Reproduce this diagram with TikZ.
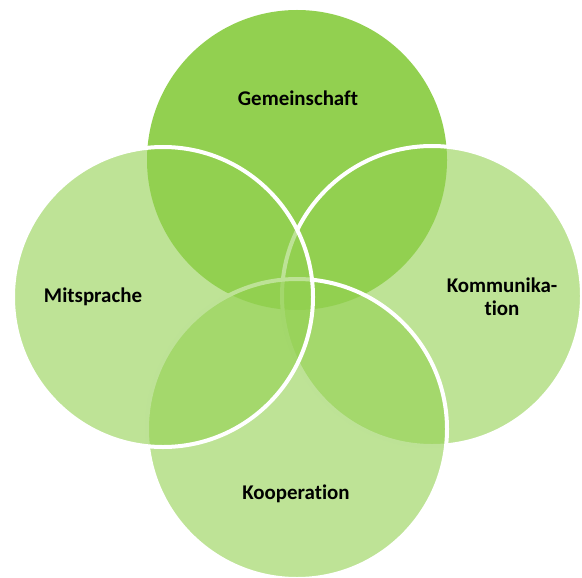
\documentclass[tikz,border=0pt]{standalone}
\usepackage{fontspec}
\setmainfont{Carlito}[Ligatures={NoCommon}]
\usepackage{xcolor}
\usetikzlibrary{positioning}
\definecolor{venngreen}{HTML}{92D050}

\tikzset{
  ring/.style={circle, minimum size=300bp, inner sep=0pt, fill=venngreen, draw=white, line width=4bp},
  lbl/.style={font=\bfseries\fontsize{21}{23}\selectfont, align=center, text=black}
}

\begin{document}
\begin{tikzpicture}[x=1bp, y=-1bp]
\useasboundingbox (0,0) rectangle (582,578);

% Gemeinschaft circle (opaque, at the back)
\node[ring, draw=none] (gem) at (297,160) {};

% Kommunikation circle
\node[ring, fill opacity=0.6] (kom) at (432,296) {};

% Kooperation circle
\node[ring, fill opacity=0.6] (koop) at (297,429) {};

% Mitsprache circle
\node[ring, fill opacity=0.6] (mit) at (163,297) {};

% Labels
\node[lbl] (gemlbl) at (298,98) {Gemeinschaft};
\node[lbl] (mitlbl) at (93,297) {Mitsprache};
\node[lbl] (komlbl) at (502,297) {Kommunika-\\tion};
\node[lbl] (kooplbl) at (296,494) {Kooperation};
\end{tikzpicture}
\end{document}
